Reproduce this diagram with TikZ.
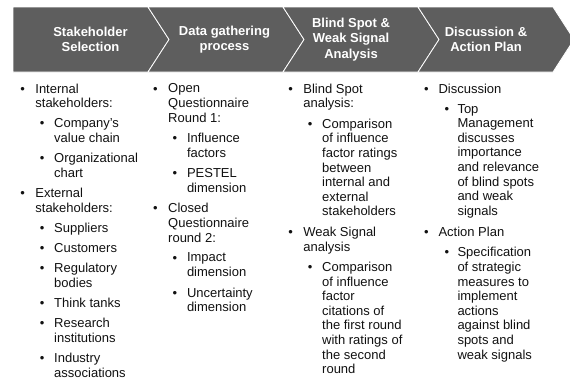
\documentclass[tikz,border=0pt]{standalone}
\usepackage{fontspec}
\setmainfont{Liberation Sans}
\usetikzlibrary{positioning}
\definecolor{chvgrey}{HTML}{5E5E5E}
\definecolor{bodyink}{HTML}{111111}

\begin{document}
\begin{tikzpicture}[x=1pt, y=-1pt,
    chevron/.style={fill=chvgrey, draw=white, line width=.8pt},
    headtext/.style={white, align=center, inner sep=0pt,
      font=\bfseries\fontsize{13}{15.3}\selectfont},
    bodytext/.style={bodyink, anchor=north west, inner sep=0pt, align=left,
      font=\fontsize{13}{14.6}\selectfont},
    dot/.style={bodyink, anchor=base, inner sep=0pt, font=\fontsize{13}{14.6}\selectfont}]
  \useasboundingbox (0,0) rectangle (570,378);
  % process band
  \filldraw[chevron] (13,7) -- (148,7) -- (169,39.5) -- (148,72) -- (13,72) -- cycle;
  \foreach \x in {148, 283, 418}
    \filldraw[chevron] (\x,7) -- (\x+135,7) -- (\x+156,39.5) -- (\x+135,72)
      -- (\x,72) -- (\x+21,39.5) -- cycle;
  \foreach \x/\t [count=\i] in {90.5/{Stakeholder\\Selection}, 224.5/{Data gathering\\process},
      351/{Blind Spot \&\\Weak Signal\\Analysis}, 486/{Discussion \&\\Action Plan}}
    \node[headtext] (head\i) at (\x,39.5) {\t};
  % stakeholders (top of a text block sits one cap height above its first baseline)
  \foreach \lv/\y/\t [count=\i] in {0/93/{Internal\\stakeholders:}, 1/127.8/{Company's\\value chain},
      1/162.6/{Organizational\\chart}, 0/197.4/{External\\stakeholders:}, 1/232.2/{Suppliers},
      1/252.4/{Customers}, 1/272.6/{Regulatory\\bodies}, 1/307.4/{Think tanks},
      1/327.6/{Research\\institutions}, 1/362.2/{Industry\\associations}} {
    \node[dot] (s\i-dot) at (22.7+19.5*\lv,\y) {•};
    \node[bodytext] (s\i) at (35.2+18.8*\lv,\y-9.3) {\t};}
  % data gathering
  \foreach \lv/\y/\t [count=\i] in {0/93/{Open\\Questionnaire\\Round 1:}, 1/142.6/{Influence\\factors},
      1/177.6/{PESTEL\\dimension}, 0/212.5/{Closed\\Questionnaire\\round 2:},
      1/262.1/{Impact\\dimension}, 1/297/{Uncertainty\\dimension}} {
    \node[dot] (d\i-dot) at (155.5+19.5*\lv,\y) {•};
    \node[bodytext] (d\i) at (168+18.8*\lv,\y-9.3) {\t};}
  % blind spot / weak signal analysis
  \foreach \lv/\y/\t [count=\i] in {0/93/{Blind Spot\\analysis:},
      1/128/{Comparison\\of influence\\factor ratings\\between\\internal and\\external\\stakeholders},
      0/236.2/{Weak Signal\\analysis},
      1/271.1/{Comparison\\of influence\\factor\\citations of\\the first round\\with ratings of\\the second\\round}} {
    \node[dot] (b\i-dot) at (290.7+19.5*\lv,\y) {•};
    \node[bodytext] (b\i) at (303.2+18.8*\lv,\y-9.3) {\t};}
  % discussion and action plan
  \foreach \lv/\y/\t [count=\i] in {0/93/{Discussion},
      1/113.3/{Top\\Management\\discusses\\importance\\and relevance\\of blind spots\\and weak\\signals},
      0/236.2/{Action Plan},
      1/256.5/{Specification\\of strategic\\measures to\\implement\\actions\\against blind\\spots and\\weak signals}} {
    \node[dot] (p\i-dot) at (426.5+20.5*\lv,\y) {•};
    \node[bodytext] (p\i) at (438.3+19*\lv,\y-9.3) {\t};}
\end{tikzpicture}
\end{document}
